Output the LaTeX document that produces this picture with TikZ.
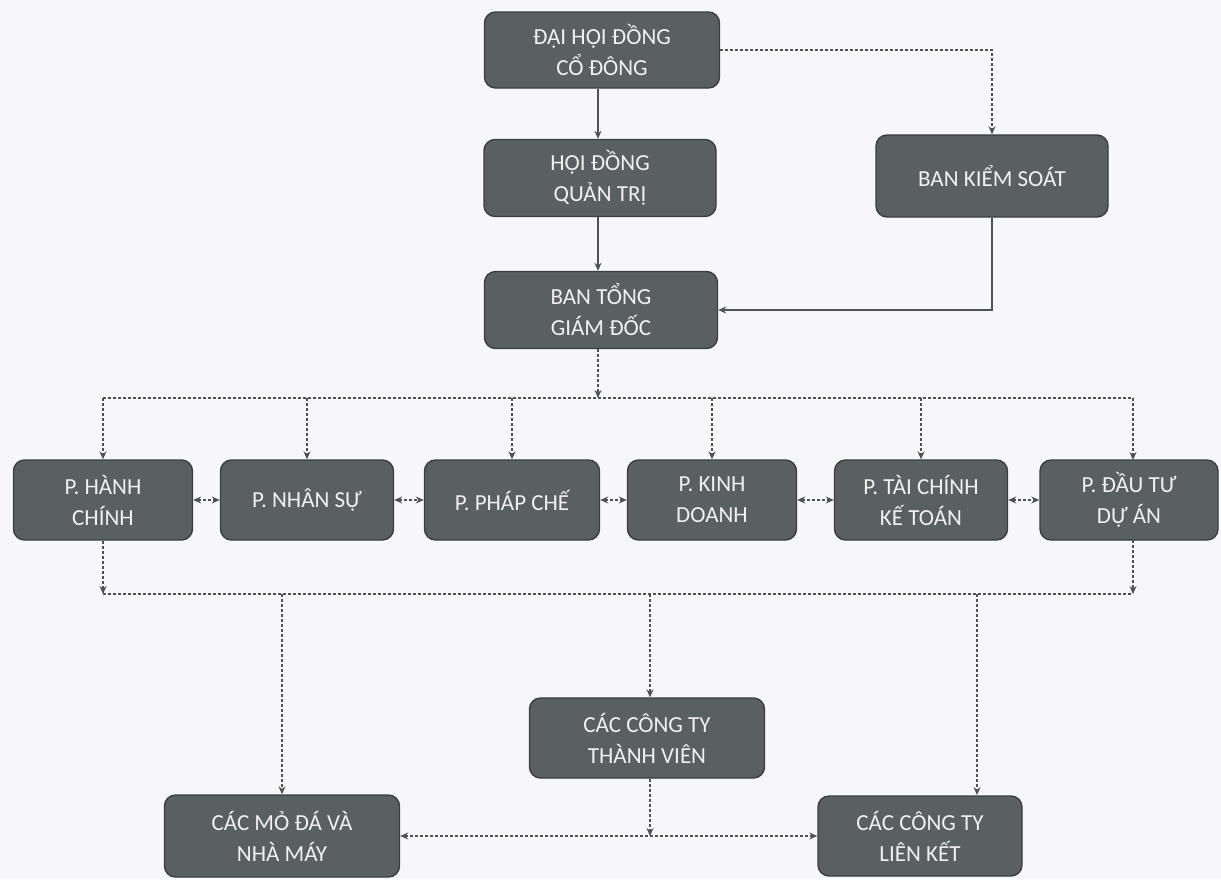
\documentclass[tikz,border=0pt]{standalone}
\usepackage{fontspec}
\setmainfont{Carlito}
\usetikzlibrary{arrows.meta}
\definecolor{boxfill}{HTML}{5A6061}
\definecolor{boxedge}{HTML}{3A3E3F}
\definecolor{linec}{HTML}{4E5255}
\definecolor{bg}{HTML}{F7F7FA}
\definecolor{boxtext}{HTML}{F0F0F0}
\tikzset{
  box/.style={draw=boxedge, line width=1.4pt, fill=boxfill, rounded corners=11pt,
    text=boxtext, align=center, font=\fontsize{23}{31}\selectfont, inner sep=2pt},
  wire/.style={draw=linec, line width=1.1pt},
  dwire/.style={draw=linec, line width=1.1pt, densely dashed},
  tip/.style={-{Stealth[length=8pt,width=7pt]}},
  twotip/.style={{Stealth[length=8pt,width=7pt]}-{Stealth[length=8pt,width=7pt]}},
}
\begin{document}
\begin{tikzpicture}[x=1pt,y=-1pt]
\fill[bg] (0,0) rectangle (1221,879);
\useasboundingbox (0,0) rectangle (1221,879);

% top levels
\node[box, minimum width=235pt, minimum height=76pt] (dh) at (602,50) {ĐẠI HỘI ĐỒNG\\CỔ ĐÔNG};
\node[box, minimum width=232pt, minimum height=77pt] (hd) at (600,178) {HỘI ĐỒNG\\QUẢN TRỊ};
\node[box, minimum width=232pt, minimum height=82pt] (bks) at (992,176) {BAN KIỂM SOÁT};
\node[box, minimum width=233pt, minimum height=77pt] (bt) at (601,310) {BAN TỔNG\\GIÁM ĐỐC};

% departments
\node[box, minimum width=179pt, minimum height=80pt] (ph) at (103,500) {P. HÀNH\\CHÍNH};
\node[box, minimum width=173pt, minimum height=80pt] (pn) at (307,500) {P. NHÂN SỰ};
\node[box, minimum width=175pt, minimum height=80pt] (pp) at (512,500) {P. PHÁP CHẾ};
\node[box, minimum width=169pt, minimum height=80pt] (pk) at (712,500) {P. KINH\\DOANH};
\node[box, minimum width=173pt, minimum height=80pt] (pt) at (921,500) {P. TÀI CHÍNH\\KẾ TOÁN};
\node[box, minimum width=178pt, minimum height=80pt] (pd) at (1129,500) {P. ĐẦU TƯ\\DỰ ÁN};

% bottom
\node[box, minimum width=235pt, minimum height=80pt] (tv) at (647,738) {CÁC CÔNG TY\\THÀNH VIÊN};
\node[box, minimum width=235pt, minimum height=82pt] (md) at (282,836) {CÁC MỎ ĐÁ VÀ\\NHÀ MÁY};
\node[box, minimum width=204pt, minimum height=80pt] (lk) at (920,836) {CÁC CÔNG TY\\LIÊN KẾT};

\coordinate (bus1) at (598,398);
\coordinate (busR) at (1133,398);
\coordinate (pdin) at (1133,460);
\coordinate (pdout) at (1133,540);
\coordinate (bus2) at (650,594);
\coordinate (bus2R) at (1133,594);
\coordinate (lkin) at (977,795);

% top connectors
\draw[wire, tip] (dh.south -| bus1) -- (hd.north -| bus1);
\draw[dwire, tip] (dh.east) -| (bks.north);
\draw[wire, tip] (hd.south -| bus1) -- (bt.north -| bus1);
\draw[wire, tip] (bks.south) |- (bt.east);
\draw[dwire, tip] (bt.south -| bus1) -- (bus1);

% top bus
\draw[dwire] (ph.north |- bus1) -- (busR);
\draw[dwire, tip] (ph.north |- bus1) -- (ph.north);
\draw[dwire, tip] (pn.north |- bus1) -- (pn.north);
\draw[dwire, tip] (pp.north |- bus1) -- (pp.north);
\draw[dwire, tip] (pk.north |- bus1) -- (pk.north);
\draw[dwire, tip] (pt.north |- bus1) -- (pt.north);
\draw[dwire, tip] (busR) -- (pdin);

% between departments
\draw[dwire, twotip] (ph.east) -- (pn.west);
\draw[dwire, twotip] (pn.east) -- (pp.west);
\draw[dwire, twotip] (pp.east) -- (pk.west);
\draw[dwire, twotip] (pk.east) -- (pt.west);
\draw[dwire, twotip] (pt.east) -- (pd.west);

% bottom bus
\draw[dwire, tip] (ph.south) -- (ph.south |- bus2);
\draw[dwire, tip] (pdout) -- (bus2R);
\draw[dwire] (ph.south |- bus2) -- (bus2R);
\draw[dwire, tip] (md.north |- bus2) -- (md.north);
\draw[dwire, tip] (bus2) -- (bus2 |- tv.north);
\draw[dwire, tip] (lkin |- bus2) -- (lkin);

% bottom links
\draw[dwire, tip] (tv.south -| bus2) -- (bus2 |- md.east);
\draw[dwire, twotip] (md.east) -- (lk.west);
\end{tikzpicture}
\end{document}
